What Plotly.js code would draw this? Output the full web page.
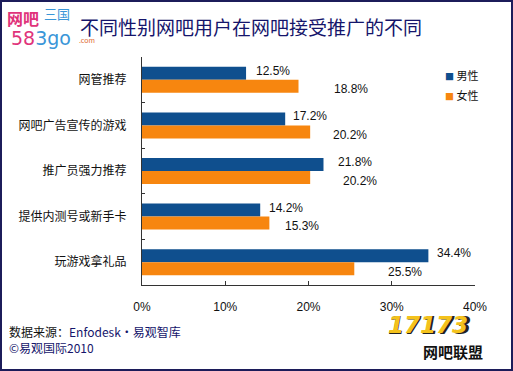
<!DOCTYPE html>
<html>
<head>
<meta charset="utf-8">
<script src="https://cdn.plot.ly/plotly-3.0.1.min.js"></script>
<style>
  html, body { margin: 0; padding: 0; background: #fff; }
  #frame { width: 509px; height: 367px; border: 2px solid #1c1c5a; position: relative; }
  #chart { width: 509px; height: 367px; }
</style>
</head>
<body>
<div id="frame"><div id="chart"></div></div>
<script>
// ---- data ----
var categories = ['网管推荐', '网吧广告宣传的游戏', '推广员强力推荐', '提供内测号或新手卡', '玩游戏拿礼品'];
var maleValues = [12.5, 17.2, 21.8, 14.2, 34.4];
var femaleValues = [18.8, 20.2, 20.2, 15.3, 25.5];
var seriesNames = ['男性', '女性'];
var xTickValues = [0, 10, 20, 30, 40];
var xTickLabels = ['0%', '10%', '20%', '30%', '40%'];

// ---- style ----
var maleColor = '#0f4f8e';
var femaleColor = '#f7860f';
var font = '"Noto Sans CJK SC", "Liberation Sans", Arial, sans-serif';
var numFont = 'Liberation Sans, Arial, sans-serif';
var maleLabelShift = [8, 6, 13, 7, 7];
var femaleLabelShift = [33, 21, 31, 14, 32];

var traces = [
  { type: 'bar', orientation: 'h', name: seriesNames[0], y: categories, x: maleValues,
    marker: { color: maleColor }, hoverinfo: 'none' },
  { type: 'bar', orientation: 'h', name: seriesNames[1], y: categories, x: femaleValues,
    marker: { color: femaleColor }, hoverinfo: 'none' }
];

var annotations = [];
// value labels
for (var i = 0; i < categories.length; i++) {
  annotations.push({ x: maleValues[i], y: categories[i], xref: 'x', yref: 'y',
    text: maleValues[i].toFixed(1) + '%', showarrow: false, xanchor: 'left',
    yshift: 9, xshift: maleLabelShift[i], font: { size: 12, color: '#111', family: numFont } });
  annotations.push({ x: femaleValues[i], y: categories[i], xref: 'x', yref: 'y',
    text: femaleValues[i].toFixed(1) + '%', showarrow: false, xanchor: 'left',
    yshift: -9.5, xshift: femaleLabelShift[i], font: { size: 12, color: '#111', family: numFont } });
}
// legend (drawn as text)
annotations.push({ xref: 'paper', yref: 'paper', x: 0.905, y: 0.921, xanchor: 'left', yanchor: 'middle',
  text: '<span style="color:' + maleColor + ';font-size:9px">■</span> ' + seriesNames[0], showarrow: false,
  font: { size: 11, color: '#111', family: font } });
annotations.push({ xref: 'paper', yref: 'paper', x: 0.905, y: 0.833, xanchor: 'left', yanchor: 'middle',
  text: '<span style="color:' + femaleColor + ';font-size:9px">■</span> ' + seriesNames[1], showarrow: false,
  font: { size: 11, color: '#111', family: font } });
// title
annotations.push({ xref: 'paper', yref: 'paper', x: -0.192, y: 1.132, xanchor: 'left', yanchor: 'middle',
  text: '不同性别网吧用户在网吧接受推广的不同', showarrow: false,
  font: { size: 19, color: '#15156b', family: font } });
// top-left logo
annotations.push({ xref: 'paper', yref: 'paper', x: -0.41, y: 1.172, xanchor: 'left', yanchor: 'middle',
  text: '<b>网吧</b>', showarrow: false, font: { size: 16, color: '#e0337a', family: font } });
annotations.push({ xref: 'paper', yref: 'paper', x: -0.3, y: 1.19, xanchor: 'left', yanchor: 'middle',
  text: '三国', showarrow: false, font: { size: 13, color: '#3a96d8', family: font } });
annotations.push({ xref: 'paper', yref: 'paper', x: -0.4, y: 1.085, xanchor: 'left', yanchor: 'middle',
  text: '<span style="color:#e0337a">58</span><span style="color:#3a96d8">3go</span>', showarrow: false,
  font: { size: 19, family: 'DejaVu Sans, sans-serif' } });
annotations.push({ xref: 'paper', yref: 'paper', x: -0.196, y: 1.075, xanchor: 'left', yanchor: 'middle',
  text: '.com', showarrow: false, font: { size: 7, color: '#e06a30', family: font } });
// footer
annotations.push({ xref: 'paper', yref: 'paper', x: -0.405, y: -0.206, xanchor: 'left', yanchor: 'middle',
  text: '<span style="color:#111">数据来源：</span>Enfodesk·易观智库', showarrow: false,
  font: { size: 12, color: '#15156b', family: font } });
annotations.push({ xref: 'paper', yref: 'paper', x: -0.405, y: -0.276, xanchor: 'left', yanchor: 'middle',
  text: '©易观国际2010', showarrow: false,
  font: { size: 12, color: '#15156b', family: font } });
// bottom-right logo
annotations.push({ xref: 'paper', yref: 'paper', x: 0.864, y: -0.181, xanchor: 'center', yanchor: 'middle',
  text: '<b><i>17173</i></b>', showarrow: false,
  font: { size: 24, color: '#222', family: 'DejaVu Sans, sans-serif' } });
annotations.push({ xref: 'paper', yref: 'paper', x: 0.859, y: -0.175, xanchor: 'center', yanchor: 'middle',
  text: '<b><i>17173</i></b>', showarrow: false,
  font: { size: 23, color: '#f4c21c', family: 'DejaVu Sans, sans-serif' } });
annotations.push({ xref: 'paper', yref: 'paper', x: 1.03, y: -0.29, xanchor: 'right', yanchor: 'middle',
  text: '<b>网吧联盟</b>', showarrow: false,
  font: { size: 15, color: '#111', family: font } });

var layout = {
  width: 509, height: 367,
  margin: { l: 140, r: 36, t: 55, b: 84 },
  paper_bgcolor: '#ffffff', plot_bgcolor: '#ffffff',
  barmode: 'group', bargap: 0.43, bargroupgap: 0,
  showlegend: false,
  xaxis: { range: [0, 40], tickvals: xTickValues, ticktext: xTickLabels,
    showgrid: false, zeroline: false, showline: true, linecolor: '#333', linewidth: 1,
    ticks: 'inside', ticklen: 4, tickcolor: '#333', fixedrange: true,
    tickfont: { size: 12, color: '#111', family: numFont }, ticklabelstandoff: 11 },
  yaxis: { autorange: 'reversed', showgrid: false, zeroline: false,
    showline: true, linecolor: '#333', linewidth: 1, ticks: 'inside', ticklen: 3, tickcolor: '#333',
    tickson: 'boundaries', fixedrange: true,
    tickfont: { size: 12, color: '#111', family: font }, ticklabelstandoff: 12 },
  annotations: annotations,
  font: { family: font }
};

Plotly.newPlot('chart', traces, layout, { displayModeBar: false, staticPlot: true });
</script>
</body>
</html>
